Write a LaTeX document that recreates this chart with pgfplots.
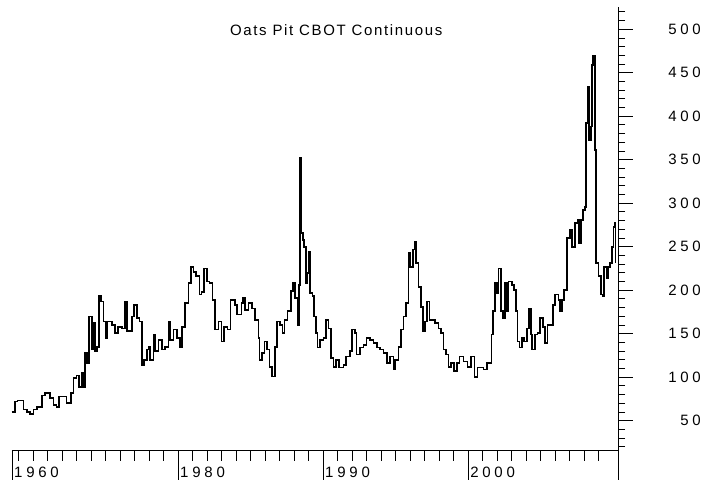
\documentclass[border=0pt]{standalone}
\usepackage{fontspec}
\setmainfont{Liberation Sans}
\newfontfamily\lblfont[LetterSpace=25]{Liberation Sans}
\newfontfamily\ttlfont[LetterSpace=11]{Liberation Sans}
\usepackage{pgfplots}
\usepackage{pgfplotstable}
\pgfplotsset{compat=1.18}
\pgfplotstableread{
year price
1968.53 60
1968.76 72
1968.92 73
1969.33 63
1969.57 60
1969.79 58
1970.02 63
1970.26 66
1970.60 79
1970.83 82
1971.17 76
1971.40 68
1971.63 66
1971.81 78
1972.09 78
1972.32 70
1972.60 82
1972.78 99
1973.01 102
1973.17 89
1973.36 105
1973.47 89
1973.59 128
1973.74 116
1973.88 170
1974.05 132
1974.16 162
1974.28 130
1974.43 135
1974.53 193
1974.67 187
1974.85 164
1975.03 145
1975.12 164
1975.43 160
1975.66 151
1975.88 158
1976.12 156
1976.34 187
1976.46 153
1976.81 170
1976.97 183
1977.15 168
1977.33 164
1977.50 114
1977.66 120
1977.84 132
1977.95 135
1978.07 120
1978.30 149
1978.41 130
1978.64 143
1978.88 132
1979.10 135
1979.33 164
1979.45 143
1979.68 155
1979.91 145
1980.14 135
1980.26 158
1980.48 185
1980.71 208
1980.88 227
1981.06 221
1981.24 216
1981.47 195
1981.63 198
1981.81 225
1981.98 210
1982.16 208
1982.39 189
1982.55 155
1982.78 164
1983.01 141
1983.17 158
1983.40 155
1983.63 189
1983.93 183
1984.05 172
1984.39 185
1984.50 191
1984.62 177
1984.85 185
1985.08 179
1985.31 166
1985.54 145
1985.61 120
1985.77 128
1985.95 141
1986.12 132
1986.30 112
1986.50 101
1986.69 135
1986.81 164
1987.03 160
1987.19 151
1987.33 166
1987.54 176
1987.77 199
1987.91 208
1988.07 191
1988.26 160
1988.34 206
1988.41 352
1988.48 266
1988.60 258
1988.69 250
1988.81 208
1988.92 220
1989.01 244
1989.10 197
1989.26 193
1989.38 170
1989.52 151
1989.61 134
1989.79 143
1990.02 145
1990.21 166
1990.37 156
1990.53 122
1990.71 112
1990.90 120
1991.12 111
1991.40 114
1991.59 124
1991.86 130
1991.98 155
1992.21 151
1992.32 126
1992.55 134
1992.78 137
1993.01 145
1993.24 143
1993.47 139
1993.70 134
1993.93 132
1994.16 128
1994.39 116
1994.62 124
1994.85 109
1994.97 120
1995.19 135
1995.36 155
1995.54 170
1995.72 185
1995.88 243
1996.00 227
1996.19 247
1996.30 256
1996.41 231
1996.57 204
1996.74 181
1996.88 153
1997.03 164
1997.15 187
1997.33 166
1997.57 166
1997.72 162
1997.95 156
1998.12 151
1998.30 132
1998.48 126
1998.64 112
1998.81 116
1999.03 107
1999.22 116
1999.40 124
1999.68 118
1999.95 112
2000.19 124
2000.45 100
2000.64 111
2001.06 109
2001.29 116
2001.52 116
2001.63 149
2001.74 176
2001.86 208
2001.98 197
2002.09 225
2002.26 176
2002.39 168
2002.55 208
2002.67 176
2002.78 210
2003.01 206
2003.17 200
2003.31 176
2003.40 141
2003.54 134
2003.70 145
2003.86 141
2004.05 156
2004.21 179
2004.32 149
2004.43 132
2004.62 149
2004.78 151
2004.97 168
2005.15 158
2005.31 139
2005.47 160
2005.66 160
2005.84 183
2006.00 195
2006.23 189
2006.34 176
2006.46 189
2006.62 200
2006.81 260
2007.03 269
2007.15 250
2007.38 277
2007.54 281
2007.66 254
2007.77 281
2007.91 292
2008.07 296
2008.12 392
2008.23 434
2008.32 373
2008.46 388
2008.55 459
2008.62 470
2008.74 361
2008.83 231
2008.99 216
2009.15 195
2009.26 193
2009.38 227
2009.57 214
2009.68 227
2009.79 231
2009.91 250
2010.02 273
2010.14 277
2010.17 231
}\oats
\begin{document}
\begin{tikzpicture}
\clip (-12pt,-31pt) rectangle (693pt,450pt);
\path[use as bounding box] (-12pt,-31pt) rectangle (693pt,450pt);
\begin{axis}[
  at={(0pt,0pt)}, anchor=south west,
  scale only axis, width=606pt, height=443pt,
  xmin=1968.55, xmax=2010.34, ymin=16.3, ymax=525.6,
  axis x line=bottom, axis y line=none,
  axis line style={-, line width=0.9pt, black},
  tick align=outside,
  xtick={1968.55,1980,1990,2000,2010.34},
  xticklabels={1960,1980,1990,2000,},
  minor xtick={1969,1970,...,2009},
  major tick length=30pt, minor tick length=11pt,
  tick style={line width=0.9pt, black},
  xticklabel style={font=\lblfont\fontsize{15}{18}\selectfont, anchor=north west, inner sep=0pt, xshift=2pt, yshift=13pt},
  title={Oats Pit CBOT Continuous},
  title style={at={(0.535,0.934)}, anchor=center, inner sep=0pt, font=\ttlfont\fontsize{15}{18}\selectfont},
  clip=false,
]
\addplot[const plot, black, line width=1.6pt] table[x=year, y=price] {\oats};
\end{axis}
\begin{axis}[
  at={(0pt,0pt)}, anchor=south west,
  scale only axis, width=606pt, height=443pt,
  xmin=1968.55, xmax=2010.34, ymin=16.3, ymax=525.6,
  axis x line=none, axis y line=right,
  axis line style={-, line width=0.9pt, black},
  tick align=outside,
  ytick={50,100,...,500},
  minor ytick={20,30,...,520},
  major tick length=15pt, minor tick length=7pt,
  tick style={line width=0.9pt, black},
  /pgf/number format/assume math mode=true,
  yticklabel style={font=\lblfont\fontsize{15}{18}\selectfont, anchor=east, inner sep=0pt, xshift=68pt},
]
\addplot[draw=none] coordinates {(2000,100)};
\end{axis}
\end{tikzpicture}
\end{document}
